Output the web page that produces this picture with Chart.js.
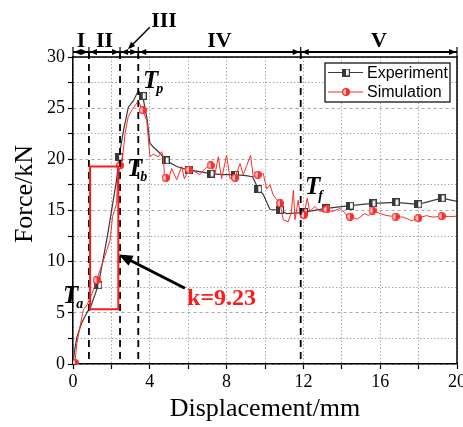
<!DOCTYPE html>
<html>
<head>
<meta charset="utf-8">
<script src="https://cdn.jsdelivr.net/npm/chart.js@4.4.0/dist/chart.umd.min.js"></script>
<style>
  html, body { margin: 0; padding: 0; background: #fff; }
  #wrap { width: 463px; height: 427px; }
</style>
</head>
<body>
<div id="wrap"><canvas id="chart" width="463" height="427"></canvas></div>
<script>
// experiment curve (mm, kN)
const expX = [0, 0.08, 0.2, 0.45, 0.75, 0.92, 1.32, 1.8, 2.27, 2.4, 2.62, 2.88, 3.14, 3.4, 3.63, 3.87, 4.0, 4.18, 4.53, 4.83, 5.4, 6.03, 6.6, 7.17, 7.8, 8.44, 9.0, 9.35, 9.65, 9.9, 10.26, 10.78, 11.13, 11.9, 12.03, 13.2, 14.43, 15.6, 16.8, 17.98, 19.2, 20];
const expY = [0, 1.3, 2.6, 4.0, 5.1, 5.6, 7.7, 12.6, 18.0, 20.25, 22.7, 25.1, 25.7, 26.7, 26.2, 23.8, 21.6, 21.2, 20.6, 19.9, 19.3, 18.95, 18.8, 18.6, 18.5, 18.5, 18.4, 18.3, 17.1, 16.6, 15.1, 15.05, 14.7, 14.8, 14.85, 15.2, 15.47, 15.7, 15.8, 15.6, 16.2, 15.9];
const expMarkX = [1.32, 2.4, 3.63, 4.83, 6.03, 7.17, 8.44, 9.65, 10.78, 12.03, 13.2, 14.43, 15.6, 16.8, 17.98, 19.2];

// simulation curve (mm, kN)
const simX = [0.1, 0.2, 0.35, 0.54, 0.74, 0.85, 1.0, 1.23, 1.6, 1.93, 2.06, 2.27, 2.32, 2.45, 2.59, 2.71, 2.88, 3.1, 3.4, 3.63, 3.84, 4.01, 4.18, 4.44, 4.62, 4.7, 4.76, 4.83, 4.97, 5.14, 5.4, 5.66, 5.8, 6.03, 6.35, 6.61, 6.88, 7.17, 7.4, 7.57, 7.74, 8.0, 8.18, 8.44, 8.7, 8.87, 9.05, 9.25, 9.39, 9.62, 9.91, 10.09, 10.26, 10.43, 10.78, 10.95, 11.2, 11.36, 11.48, 11.56, 11.73, 11.85, 12.03, 12.2, 12.33, 12.6, 12.85, 13.2, 13.5, 13.9, 14.2, 14.3, 14.43, 14.8, 15.2, 15.4, 15.6, 16.0, 16.35, 16.8, 17.2, 17.65, 17.98, 18.4, 18.75, 19.2, 19.6, 20];
const simY = [0.1, 2.0, 3.5, 5.3, 5.8, 6.3, 6.9, 8.2, 10.2, 12.1, 14.4, 15.7, 18.0, 19.4, 20.3, 22.5, 24.2, 24.9, 25.7, 24.8, 23.8, 20.25, 20.5, 20.25, 20.75, 20.25, 18.6, 18.2, 18.0, 19.1, 18.0, 19.3, 18.1, 19.0, 18.8, 18.5, 19.1, 19.4, 18.6, 20.25, 18.1, 20.4, 18.1, 18.2, 19.6, 18.5, 19.4, 20.4, 18.3, 18.5, 18.6, 17.1, 17.5, 16.5, 15.7, 14.1, 13.9, 14.7, 17.0, 14.1, 16.0, 14.3, 14.57, 16.2, 14.9, 15.4, 14.9, 15.1, 14.9, 15.2, 14.7, 14.2, 14.4, 14.15, 14.7, 14.5, 15.0, 14.7, 14.5, 14.4, 14.35, 14.0, 14.25, 14.5, 14.35, 14.45, 14.4, 14.45];
const simMarkX = [0.1, 1.23, 2.45, 3.63, 4.83, 6.03, 7.17, 8.44, 9.62, 10.78, 12.03, 13.2, 14.43, 15.6, 16.8, 17.98, 19.2];

// stage boundaries and names
const stageBounds = [0, 0.83, 2.45, 3.4, 11.86, 20];
const stageNames = ['I', 'II', 'III', 'IV', 'V'];

// marked points and slope box
const pointNames = ['a', 'b', 'p', 'f'];
const pointLabelX = [-0.52, 2.81, 3.65, 12.08];
const pointLabelY = [6.6, 19.05, 27.6, 17.2];
const slopeText = 'k=9.23';
const slopeBox = [0.89, 2.36, 5.35, 19.3];

const EXP_COLOR = '#3a3a3a';
const SIM_COLOR = '#ff2b2b';

function makeMarker(kind) {
  const c = document.createElement('canvas');
  c.width = 8; c.height = 8;
  const g = c.getContext('2d');
  if (kind === 'square') {
    g.fillStyle = '#fff'; g.fillRect(0.5, 0.5, 7, 7);
    g.fillStyle = EXP_COLOR; g.fillRect(0.5, 0.5, 3.5, 7);
    g.strokeStyle = EXP_COLOR; g.lineWidth = 1.2; g.strokeRect(0.6, 0.6, 6.8, 6.8);
  } else {
    g.fillStyle = '#ffd0d0';
    g.beginPath(); g.arc(4, 4, 3.4, 0, Math.PI * 2); g.fill();
    g.fillStyle = SIM_COLOR;
    g.beginPath(); g.arc(4, 4, 3.4, -Math.PI / 2, Math.PI / 2); g.fill();
    g.strokeStyle = SIM_COLOR; g.lineWidth = 1.2;
    g.beginPath(); g.arc(4, 4, 3.4, 0, Math.PI * 2); g.stroke();
  }
  return c;
}
const squareImg = makeMarker('square');
const circleImg = makeMarker('circle');

function drawArrow(ctx, x1, y1, x2, y2, w, head) {
  const a = Math.atan2(y2 - y1, x2 - x1);
  ctx.lineWidth = w;
  ctx.beginPath();
  ctx.moveTo(x1, y1);
  ctx.lineTo(x2 - Math.cos(a) * head * 0.7, y2 - Math.sin(a) * head * 0.7);
  ctx.stroke();
  ctx.beginPath();
  ctx.moveTo(x2, y2);
  ctx.lineTo(x2 - head * Math.cos(a - 0.38), y2 - head * Math.sin(a - 0.38));
  ctx.lineTo(x2 - head * Math.cos(a + 0.38), y2 - head * Math.sin(a + 0.38));
  ctx.closePath();
  ctx.fill();
}

const annotations = {
  id: 'annotations',
  afterDatasetsDraw(chart) {
    const ctx = chart.ctx;
    const xs = chart.scales.x, ys = chart.scales.y;
    const px = v => xs.getPixelForValue(v);
    const py = v => ys.getPixelForValue(v);
    const area = chart.chartArea;
    const barY = area.top - 5;
    ctx.save();

    // frame top / right
    ctx.strokeStyle = '#000';
    ctx.lineWidth = 1.5;
    ctx.beginPath();
    ctx.moveTo(area.left, area.top); ctx.lineTo(area.right, area.top); ctx.lineTo(area.right, area.bottom);
    ctx.stroke();

    // stage dashed lines
    ctx.lineWidth = 1.8;
    ctx.setLineDash([7, 5]);
    stageBounds.slice(1, -1).forEach(b => {
      ctx.beginPath(); ctx.moveTo(px(b), barY); ctx.lineTo(px(b), area.bottom); ctx.stroke();
    });
    ctx.setLineDash([]);

    // stage bar with arrows
    ctx.fillStyle = '#000';
    ctx.lineWidth = 1.8;
    ctx.beginPath(); ctx.moveTo(px(0), barY); ctx.lineTo(px(20), barY); ctx.stroke();
    ctx.lineWidth = 1.2;
    stageBounds.forEach(b => {
      ctx.beginPath(); ctx.moveTo(px(b), barY - 5); ctx.lineTo(px(b), barY + 5); ctx.stroke();
    });
    for (let i = 0; i < stageBounds.length - 1; i++) {
      const a = px(stageBounds[i]) + 1, b = px(stageBounds[i + 1]) - 1;
      [[a, -1], [b, 1]].forEach(([x0, d]) => {
        ctx.beginPath();
        ctx.moveTo(x0, barY);
        ctx.lineTo(x0 - d * 7, barY - 3);
        ctx.lineTo(x0 - d * 7, barY + 3);
        ctx.closePath(); ctx.fill();
      });
    }
    ctx.font = 'bold 22px "Liberation Serif"';
    ctx.textAlign = 'center';
    ctx.textBaseline = 'middle';
    stageNames.forEach((n, i) => {
      if (n === 'III') return;
      ctx.fillText(n, px((stageBounds[i] + stageBounds[i + 1]) / 2), barY - 11);
    });
    ctx.fillText('III', px(4.74), py(33.5));
    ctx.strokeStyle = '#000';
    drawArrow(ctx, px(4.0), py(32.9), px(2.86), py(30.76), 1.5, 8);

    // slope box
    ctx.strokeStyle = '#ff1a1a';
    ctx.lineWidth = 2;
    ctx.strokeRect(px(slopeBox[0]), py(slopeBox[3]), px(slopeBox[1]) - px(slopeBox[0]), py(slopeBox[2]) - py(slopeBox[3]));

    // slope arrow and text
    ctx.strokeStyle = '#000';
    ctx.fillStyle = '#000';
    drawArrow(ctx, px(5.83), py(7.4), px(2.38), py(10.7), 3, 15);
    ctx.fillStyle = '#ff1a1a';
    ctx.font = 'bold 24px "Liberation Serif"';
    ctx.textAlign = 'left';
    ctx.fillText(slopeText, px(5.94), py(6.4));

    // T labels
    ctx.fillStyle = '#000';
    pointNames.forEach((s, i) => {
      const X = px(pointLabelX[i]), Y = py(pointLabelY[i]);
      ctx.font = 'italic bold 25px "Liberation Serif"';
      ctx.textBaseline = 'middle';
      ctx.fillText('T', X, Y);
      const w = ctx.measureText('T').width;
      ctx.font = 'italic bold 14px "Liberation Serif"';
      ctx.fillText(s, X + w - 2, Y + 8);
    });

    // legend
    const lx = 325, ly = 63, lw = 125, lh = 39;
    ctx.fillStyle = '#fff';
    ctx.fillRect(lx, ly, lw, lh);
    ctx.strokeStyle = '#000';
    ctx.lineWidth = 1.2;
    ctx.strokeRect(lx, ly, lw, lh);
    [[EXP_COLOR, squareImg, 'Experiment', 1.2], [SIM_COLOR, circleImg, 'Simulation', 1]].forEach(([col, img, txt, w], i) => {
      const y0 = ly + 9.5 + i * 19.5;
      ctx.strokeStyle = col; ctx.lineWidth = w;
      ctx.beginPath(); ctx.moveTo(lx + 3, y0); ctx.lineTo(lx + 38, y0); ctx.stroke();
      ctx.drawImage(img, lx + 21 - 4, y0 - 4);
      ctx.fillStyle = '#000';
      ctx.font = '16px "Liberation Sans"';
      ctx.textAlign = 'left'; ctx.textBaseline = 'middle';
      ctx.fillText(txt, lx + 42, y0 + 1);
    });

    // y title
    ctx.save();
    ctx.translate(25, 194);
    ctx.rotate(-Math.PI / 2);
    ctx.font = '26px "Liberation Serif"';
    ctx.textAlign = 'center'; ctx.textBaseline = 'middle';
    ctx.fillStyle = '#000';
    ctx.fillText('Force/kN', 0, 0);
    ctx.restore();

    ctx.restore();
  }
};

const gridDash = c => (c.tick && Math.abs(c.tick.value % 5) < 1e-6 && c.scale.axis === 'y') ? [3, 3] : [1.5, 2];

new Chart(document.getElementById('chart'), {
  type: 'line',
  data: {
    datasets: [
      {
        label: 'Experiment',
        data: expX.map((x, i) => ({ x, y: expY[i] })),
        borderColor: EXP_COLOR,
        borderWidth: 1.2,
        pointStyle: squareImg,
        pointRadius: c => (c.raw && expMarkX.includes(c.raw.x)) ? 4 : 0,
        tension: 0,
        order: 2
      },
      {
        label: 'Simulation',
        data: simX.map((x, i) => ({ x, y: simY[i] })),
        borderColor: SIM_COLOR,
        borderWidth: 1,
        pointStyle: circleImg,
        pointRadius: c => (c.raw && simMarkX.includes(c.raw.x)) ? 4 : 0,
        tension: 0,
        order: 1
      }
    ]
  },
  options: {
    responsive: false,
    animation: false,
    layout: { padding: { top: 57, right: 6, left: 0, bottom: 0 } },
    plugins: { legend: { display: false }, tooltip: { enabled: false } },
    scales: {
      x: {
        type: 'linear', min: 0, max: 20,
        afterFit: s => { s.height = 63; s.paddingRight = 0; s.paddingLeft = 0; },
        ticks: {
          stepSize: 2, autoSkip: false, maxRotation: 0,
          callback: v => v % 4 === 0 ? v : '',
          color: '#000', font: { family: 'Liberation Serif', size: 18 }, padding: 2
        },
        grid: { color: '#a8a8a8', lineWidth: 1, tickColor: '#000', tickLength: 5, tickWidth: 1.2 },
        border: { color: '#000', width: 1.5, dash: gridDash },
        title: {
          display: true, text: 'Displacement/mm', color: '#000',
          font: { family: 'Liberation Serif', size: 26, lineHeight: 1.2 },
          padding: { top: 0, bottom: 2 }
        }
      },
      y: {
        type: 'linear', min: 0, max: 30,
        afterFit: s => { s.width = 73; s.paddingTop = 0; s.paddingBottom = 0; },
        ticks: {
          stepSize: 2.5, autoSkip: false,
          callback: v => v % 5 === 0 ? v : '',
          color: '#000', font: { family: 'Liberation Serif', size: 18 }, padding: 3
        },
        grid: { color: '#a8a8a8', lineWidth: 1, tickColor: '#000', tickLength: 5, tickWidth: 1.2 },
        border: { color: '#000', width: 1.5, dash: gridDash },
        title: { display: false }
      }
    }
  },
  plugins: [annotations]
});
</script>
</body>
</html>
